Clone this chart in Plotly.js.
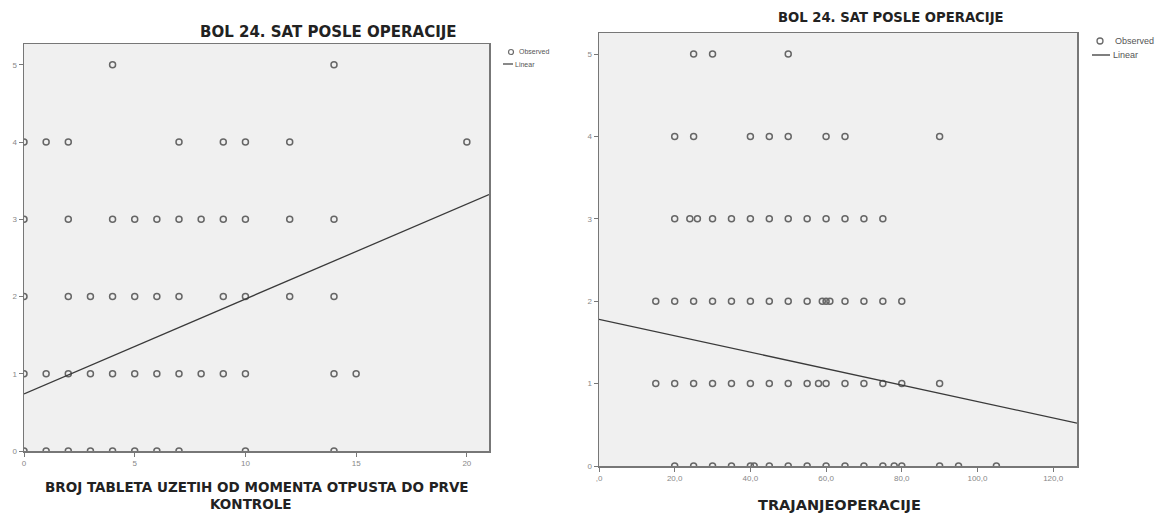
<!DOCTYPE html>
<html>
<head>
<meta charset="utf-8">
<script src="https://cdn.plot.ly/plotly-3.0.1.min.js"></script>
<style>html,body{margin:0;padding:0;background:#fff;}#chart{width:1165px;height:514px;}</style>
</head>
<body>
<div id="chart"></div>
<script>
// ---- Left chart: BROJ TABLETA vs BOL 24. SAT ----
const leftRow0 = [0, 1, 2, 3, 4, 5, 6, 7, 10, 14];
const leftRow1 = [0, 1, 2, 3, 4, 5, 6, 7, 8, 9, 10, 14, 15];
const leftRow2 = [0, 2, 3, 4, 5, 6, 7, 9, 10, 12, 14];
const leftRow3 = [0, 2, 4, 5, 6, 7, 8, 9, 10, 12, 14];
const leftRow4 = [0, 1, 2, 7, 9, 10, 12, 20];
const leftRow5 = [4, 14];
const leftFitX = [0, 21];
const leftFitY = [0.74, 3.32];
const leftTickVals = [0, 5, 10, 15, 20];
const leftTickText = ['0', '5', '10', '15', '20'];

// ---- Right chart: TRAJANJEOPERACIJE vs BOL 24. SAT ----
const rightRow0 = [20, 25, 30, 35, 40, 41, 45, 50, 55, 60, 65, 70, 75, 78, 80, 90, 95, 105];
const rightRow1 = [15, 20, 25, 30, 35, 40, 45, 50, 55, 58, 60, 65, 70, 75, 80, 90];
const rightRow2 = [15, 20, 25, 30, 35, 40, 45, 50, 55, 59, 60, 61, 65, 70, 75, 80];
const rightRow3 = [20, 24, 26, 30, 35, 40, 45, 50, 55, 60, 65, 70, 75];
const rightRow4 = [20, 25, 40, 45, 50, 60, 65, 90];
const rightRow5 = [25, 30, 50];
const rightFitX = [0, 126.3];
const rightFitY = [1.78, 0.52];
const rightTickVals = [0, 20, 40, 60, 80, 100, 120];
const rightTickText = [',0', '20,0', '40,0', '60,0', '80,0', '100,0', '120,0'];

const yTickVals = [0, 1, 2, 3, 4, 5];
const yTickText = ['0', '1', '2', '3', '4', '5'];

const W = 1165, H = 514;
const px = x => x / W;
const py = y => 1 - y / H;

function rowsToXY(rows) {
  const xs = [], ys = [];
  rows.forEach((r, i) => r.forEach(v => { xs.push(v); ys.push(i); }));
  return {xs, ys};
}
const L = rowsToXY([leftRow0, leftRow1, leftRow2, leftRow3, leftRow4, leftRow5]);
const R = rowsToXY([rightRow0, rightRow1, rightRow2, rightRow3, rightRow4, rightRow5]);

const markerStyle = {symbol: 'circle-open', size: 6, color: '#666666', line: {width: 1.5, color: '#666666'}};
const lineStyle = {color: '#3a3a3a', width: 1.3};

const traces = [
  {x: L.xs, y: L.ys, type: 'scatter', mode: 'markers', marker: markerStyle, xaxis: 'x', yaxis: 'y', name: 'Observed', showlegend: false},
  {x: leftFitX, y: leftFitY, type: 'scatter', mode: 'lines', line: lineStyle, xaxis: 'x', yaxis: 'y', name: 'Linear', showlegend: false},
  {x: R.xs, y: R.ys, type: 'scatter', mode: 'markers', marker: markerStyle, xaxis: 'x2', yaxis: 'y2', name: 'Observed', showlegend: false},
  {x: rightFitX, y: rightFitY, type: 'scatter', mode: 'lines', line: lineStyle, xaxis: 'x2', yaxis: 'y2', name: 'Linear', showlegend: false}
];

const axisCommon = {
  showgrid: false, zeroline: false, showline: true, mirror: true,
  linecolor: '#777', linewidth: 1.5, ticks: 'outside', ticklen: 4, tickwidth: 1, tickcolor: '#777',
  tickfont: {family: 'Liberation Sans, Arial, sans-serif', size: 8, color: '#888'}
};

const boldFont = 'DejaVu Sans, Liberation Sans, Arial, sans-serif';

const layout = {
  width: W, height: H,
  margin: {l: 0, r: 0, t: 0, b: 0},
  paper_bgcolor: '#ffffff',
  plot_bgcolor: '#f0f0f0',
  showlegend: false,
  font: {family: 'Liberation Sans, Arial, sans-serif'},
  xaxis: Object.assign({}, axisCommon, {domain: [px(24), px(489)], range: [0, 21.0], tickmode: 'array', tickvals: leftTickVals, ticktext: leftTickText, anchor: 'y'}),
  yaxis: Object.assign({}, axisCommon, {domain: [py(451), py(44)], range: [0, 5.27], tickmode: 'array', tickvals: yTickVals, ticktext: yTickText, anchor: 'x'}),
  xaxis2: Object.assign({}, axisCommon, {domain: [px(599), px(1077)], range: [0, 126.3], tickmode: 'array', tickvals: rightTickVals, ticktext: rightTickText, anchor: 'y2'}),
  yaxis2: Object.assign({}, axisCommon, {domain: [py(466), py(33)], range: [0, 5.255], tickmode: 'array', tickvals: yTickVals, ticktext: yTickText, anchor: 'x2'}),
  annotations: [
    {text: 'BOL 24. SAT POSLE OPERACIJE', xref: 'paper', yref: 'paper', x: px(328), y: py(32), xanchor: 'center', yanchor: 'middle', showarrow: false, font: {family: boldFont, size: 15, color: '#222', weight: 'bold'}},
    {text: 'BOL 24. SAT POSLE OPERACIJE', xref: 'paper', yref: 'paper', x: px(891), y: py(18), xanchor: 'center', yanchor: 'middle', showarrow: false, font: {family: boldFont, size: 13.2, color: '#222', weight: 'bold'}},
    {text: 'BROJ TABLETA UZETIH OD MOMENTA OTPUSTA DO PRVE', xref: 'paper', yref: 'paper', x: px(257), y: py(487), xanchor: 'center', yanchor: 'middle', showarrow: false, borderpad: 0, font: {family: boldFont, size: 13.5, color: '#222', weight: 'bold'}},
    {text: 'KONTROLE', xref: 'paper', yref: 'paper', x: px(251), y: py(504), xanchor: 'center', yanchor: 'middle', showarrow: false, borderpad: 0, font: {family: boldFont, size: 13.5, color: '#222', weight: 'bold'}},
    {text: 'TRAJANJEOPERACIJE', xref: 'paper', yref: 'paper', x: px(839), y: py(505), xanchor: 'center', yanchor: 'middle', showarrow: false, font: {family: boldFont, size: 14.5, color: '#222', weight: 'bold'}},
    {text: 'Observed', xref: 'paper', yref: 'paper', x: px(517), y: py(52), xanchor: 'left', yanchor: 'middle', showarrow: false, font: {size: 7, color: '#555'}},
    {text: 'Linear', xref: 'paper', yref: 'paper', x: px(513), y: py(64), xanchor: 'left', yanchor: 'middle', showarrow: false, font: {size: 7, color: '#555'}},
    {text: 'Observed', xref: 'paper', yref: 'paper', x: px(1113), y: py(41), xanchor: 'left', yanchor: 'middle', showarrow: false, font: {size: 9, color: '#555'}},
    {text: 'Linear', xref: 'paper', yref: 'paper', x: px(1111), y: py(55), xanchor: 'left', yanchor: 'middle', showarrow: false, font: {size: 9, color: '#555'}}
  ],
  shapes: [
    {type: 'circle', xref: 'paper', yref: 'paper', xsizemode: 'pixel', ysizemode: 'pixel', xanchor: px(511), yanchor: py(52), x0: -2.5, x1: 2.5, y0: -2.5, y1: 2.5, line: {color: '#6a6a6a', width: 1.2}},
    {type: 'line', xref: 'paper', yref: 'paper', x0: px(503), x1: px(513), y0: py(64), y1: py(64), line: {color: '#3a3a3a', width: 1.2}},
    {type: 'circle', xref: 'paper', yref: 'paper', xsizemode: 'pixel', ysizemode: 'pixel', xanchor: px(1100), yanchor: py(41), x0: -3, x1: 3, y0: -3, y1: 3, line: {color: '#6a6a6a', width: 1.3}},
    {type: 'line', xref: 'paper', yref: 'paper', x0: px(1092), x1: px(1110), y0: py(55), y1: py(55), line: {color: '#3a3a3a', width: 1.3}}
  ]
};

Plotly.newPlot('chart', traces, layout, {displayModeBar: false, staticPlot: true});
</script>
</body>
</html>
